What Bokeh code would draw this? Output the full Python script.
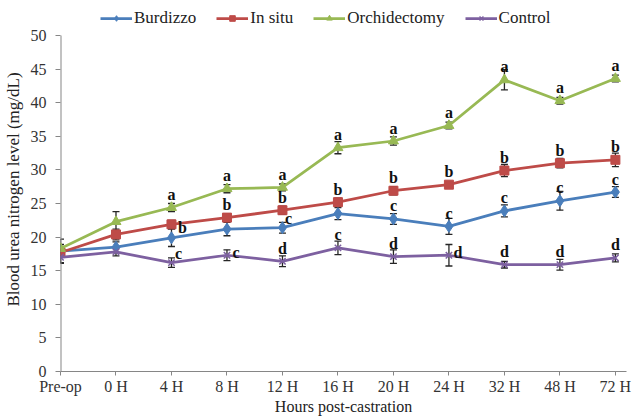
from bokeh.plotting import figure
from bokeh.models import (ColumnDataSource, Legend, LegendItem, Whisker, TeeHead,
                          FixedTicker, Range1d)
from bokeh.embed import file_html
from bokeh.resources import INLINE

# ---------------- data ----------------
categories = ["Pre-op", "0 H", "4 H", "8 H", "12 H", "16 H", "20 H", "24 H", "32 H", "48 H", "72 H"]

burdizzo = [17.9, 18.5, 19.9, 21.2, 21.4, 23.5, 22.7, 21.6, 23.9, 25.4, 26.7]
in_situ = [17.7, 20.4, 21.9, 22.9, 24.0, 25.2, 26.9, 27.8, 29.9, 31.0, 31.5]
orchidectomy = [18.3, 22.3, 24.4, 27.2, 27.4, 33.3, 34.3, 36.6, 43.4, 40.3, 43.6]
control = [17.0, 17.8, 16.2, 17.3, 16.4, 18.4, 17.1, 17.3, 15.9, 15.9, 16.9]

burdizzo_err = [1.8, 0.8, 1.3, 1.0, 0.8, 0.9, 0.8, 1.2, 0.9, 1.4, 0.8]
in_situ_err = [0.5, 0.8, 0.6, 0.6, 0.6, 0.6, 0.6, 0.5, 0.9, 0.7, 1.0]
orchidectomy_err = [0.6, 1.5, 0.6, 0.6, 0.5, 0.9, 0.6, 0.5, 1.5, 0.5, 0.5]
control_err = [0.8, 0.6, 0.7, 0.8, 0.8, 1.0, 1.0, 1.6, 0.5, 0.8, 0.6]

burdizzo_sig = ["", "", "", "", "c", "", "c", "c", "c", "c", "c"]
in_situ_sig = ["", "", "b", "b", "b", "b", "b", "b", "b", "b", "b"]
orchidectomy_sig = ["", "", "a", "a", "a", "a", "a", "a", "a", "a", "a"]
control_sig = ["", "", "c", "c", "d", "c", "d", "d", "d", "d", "d"]

y_ticks = [0, 5, 10, 15, 20, 25, 30, 35, 40, 45, 50]

# ---------------- styles ----------------
FONT = "Liberation Serif"
series = [
    ("Burdizzo", burdizzo, burdizzo_err, burdizzo_sig, "#4A7EBB", "diamond", 12),
    ("In situ", in_situ, in_situ_err, in_situ_sig, "#BE4B48", "square", 9),
    ("Orchidectomy", orchidectomy, orchidectomy_err, orchidectomy_sig, "#98B954", "triangle", 10),
    ("Control", control, control_err, control_sig, "#7D60A0", "x", 9),
]
placement = {
    ("In situ", 2): (11, 3),
    ("Burdizzo", 4): (6, -9),
    ("Control", 2): (7, -9),
    ("Control", 3): (9, -3),
    ("Control", 7): (9, -3),
}
ABOVE = (0, -13)

W, H = 633, 417
BL, BR, BT, BB = 60, 7, 7, 46
frame_h = H - BT - BB
px_per_unit = (frame_h - 28) / 50.0       # value 50 sits 28px below the frame top
y_top = 50 + 28 / px_per_unit

p = figure(width=W, height=H, output_backend="svg", toolbar_location=None,
           x_range=Range1d(0, len(categories) - 1 + 0.2), y_range=Range1d(0, y_top),
           min_border_left=BL, min_border_right=BR, min_border_top=BT, min_border_bottom=BB)
p.outline_line_color = None
p.xgrid.visible = False
p.ygrid.visible = False

# y axis line only from first to last tick
p.segment(x0=[0], y0=[y_ticks[0]], x1=[0], y1=[y_ticks[-1]], line_color="#868686", line_width=2)

idx = list(range(len(categories)))
items = []
for name, vals, errs, sigs, color, marker, msize in series:
    src = ColumnDataSource(dict(
        x=idx, y=vals,
        upper=[v + e for v, e in zip(vals, errs)],
        lower=[v - e for v, e in zip(vals, errs)],
    ))
    lr = p.line("x", "y", source=src, line_color=color, line_width=2.75)
    w = Whisker(source=src, base="x", upper="upper", lower="lower", dimension="height",
                line_color="#262626", line_width=1.3,
                upper_head=TeeHead(size=7, line_color="#262626", line_width=1.3),
                lower_head=TeeHead(size=7, line_color="#262626", line_width=1.3))
    p.add_layout(w)
    if marker == "x":
        sr = p.scatter("x", "y", source=src, marker="x", size=msize, line_color=color, line_width=1.5)
    else:
        sr = p.scatter("x", "y", source=src, marker=marker, size=msize, fill_color=color, line_color=color)
    items.append(LegendItem(label=name, renderers=[lr, sr]))

for name, vals, errs, sigs, color, marker, msize in series:
    tx, ty, txt, xo, yo = [], [], [], [], []
    for i, s in enumerate(sigs):
        if not s:
            continue
        dx, dy = placement.get((name, i), ABOVE)
        tx.append(i); ty.append(vals[i]); txt.append(s); xo.append(dx); yo.append(dy)
    tsrc = ColumnDataSource(dict(x=tx, y=ty, text=txt, xo=xo, yo=yo))
    p.text("x", "y", text="text", source=tsrc, x_offset="xo", y_offset="yo",
           text_font={"value": FONT}, text_font_style="bold", text_font_size="16px",
           text_color="#111111", text_align="center", text_baseline="middle")

legend = Legend(items=items, orientation="horizontal", location=(40, frame_h - 21),
                label_text_font=FONT, label_text_font_size="17px", label_text_color="#222222",
                glyph_width=32, glyph_height=14, label_standoff=2, spacing=20,
                label_height=20, padding=0, margin=0, border_line_alpha=0, background_fill_alpha=0)
p.add_layout(legend)

p.xaxis.ticker = FixedTicker(ticks=idx)
p.xaxis.major_label_overrides = {i: c for i, c in enumerate(categories)}
p.yaxis.ticker = FixedTicker(ticks=y_ticks)
for ax in (p.xaxis[0], p.yaxis[0]):
    ax.axis_line_color = "#868686"
    ax.major_tick_line_color = "#868686"
    ax.minor_tick_line_color = None
    ax.major_tick_in = 0
    ax.major_tick_out = 5
    ax.major_label_text_font = FONT
    ax.major_label_text_font_size = "16px"
    ax.major_label_text_color = "#333333"
    ax.axis_label_text_font = FONT
    ax.axis_label_text_font_style = "normal"
    ax.axis_label_text_color = "#222222"
p.yaxis.axis_line_color = None
p.xaxis.axis_label = "Hours post-castration"
p.xaxis.axis_label_text_font_size = "16px"
p.yaxis.axis_label = "Blood urea nitrogen level (mg/dL)"
p.yaxis.axis_label_text_font_size = "17px"
p.xaxis.major_tick_out = 4
p.xaxis.major_label_standoff = 2
p.xaxis.axis_label_standoff = 0
p.yaxis.major_label_standoff = 9
p.yaxis.axis_label_standoff = 5

open("out.html", "w").write(file_html(p, INLINE))
